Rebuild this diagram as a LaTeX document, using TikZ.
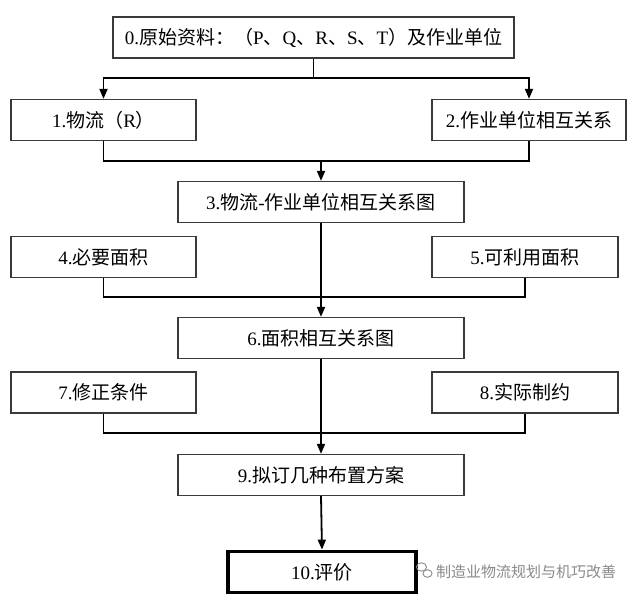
\documentclass[tikz,border=0pt]{standalone}
\usepackage{fontspec}
\setmainfont{Liberation Serif}
\newfontfamily\cjk{Noto Sans CJK SC}
\newcommand\zh[1]{{\cjk #1}}
\usetikzlibrary{arrows.meta}
\definecolor{boxline}{HTML}{3A3A3A}
\definecolor{wmgray}{HTML}{8A8A8A}
\tikzset{
  box/.style={draw=boxline, line width=1.3pt, fill=white, inner sep=0pt,
    minimum height=41pt, font=\fontsize{19}{21}\selectfont},
  side/.style={box, minimum width=185pt},
  mid/.style={box, minimum width=286pt},
  conn/.style={draw=black, line width=1.8pt},
  arr/.style={conn, -{Triangle[width=8pt,length=10pt]}},
}
\begin{document}
\begin{tikzpicture}[x=1pt,y=-1pt]
\useasboundingbox (0,0) rectangle (638,597);
\fill[white] (0,0) rectangle (638,597);

\node[box, minimum width=401pt] (b0) at (313.5,37.5)
  {0.\zh{原始资料：（}P\zh{、}Q\zh{、}R\zh{、}S\zh{、}T\zh{）及作业单位}};
\node[side] (b1) at (103.5,120) {1.\zh{物流（}R\zh{）}};
\node[side, minimum width=194pt] (b2) at (529,120) {2.\zh{作业单位相互关系}};
\node[mid] (b3) at (321,202) {3.\zh{物流}-\zh{作业单位相互关系图}};
\node[side] (b4) at (103.5,257) {4.\zh{必要面积}};
\node[side, minimum width=186pt] (b5) at (525,257) {5.\zh{可利用面积}};
\node[mid] (b6) at (321,338) {6.\zh{面积相互关系图}};
\node[side] (b7) at (103.5,392.5) {7.\zh{修正条件}};
\node[side, minimum width=186pt] (b8) at (525,392.5) {8.\zh{实际制约}};
\node[mid] (b9) at (321,475) {9.\zh{拟订几种布置方案}};
\node[box, draw=black, line width=3.8pt, minimum width=188pt] (b10) at (322,572) {10.\zh{评价}};

\coordinate (h1) at (0,78);
\coordinate (h2) at (0,161);
\coordinate (h3) at (0,297);
\coordinate (h4) at (0,433);

\draw[conn] (b0.south) -- (b0.south|-h1);
\draw[arr] (b0.south|-h1) -| (b1.north);
\draw[arr] (b0.south|-h1) -| (b2.north);

\draw[conn] (b1.south) |- (b2.south|-h2) -- (b2.south);
\draw[arr] (b3.north|-h2) -- (b3.north);

\draw[arr] (b3.south) -- (b6.north);
\draw[conn] (b4.south) |- (b5.south|-h3) -- (b5.south);

\draw[arr] (b6.south) -- (b9.north);
\draw[conn] (b7.south) |- (b8.south|-h4) -- (b8.south);

\draw[arr] (b9.south) -- (b10.north);

% watermark
\node[font=\cjk\fontsize{15}{17}\selectfont, text=wmgray, anchor=west, inner sep=0pt] (wm) at (436,572) {制造业物流规划与机巧改善};
\draw[wmgray, line width=0.9pt] (421.5,567) ellipse (5pt and 4.2pt);
\draw[wmgray, line width=0.9pt, fill=white] (427.5,573.5) ellipse (4.5pt and 3.8pt);
\end{tikzpicture}
\end{document}
